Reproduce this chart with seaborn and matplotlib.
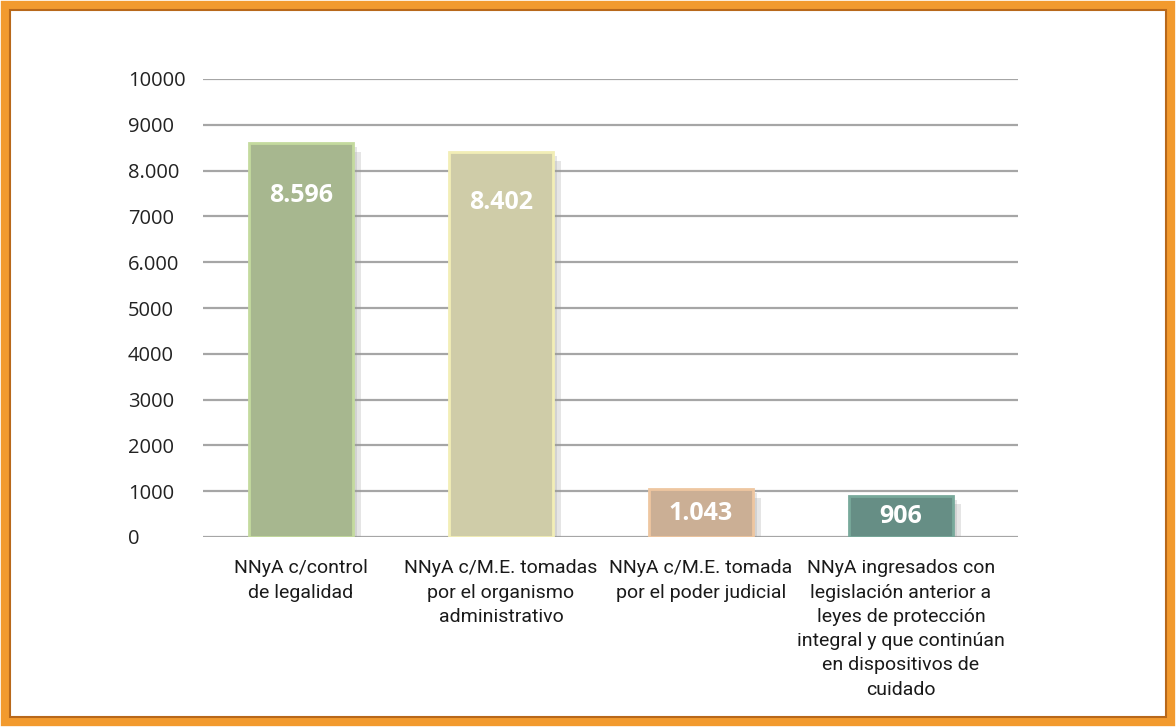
import matplotlib
matplotlib.use("Agg")
import matplotlib.pyplot as plt
import matplotlib.patheffects as pe
from matplotlib.patches import Rectangle
import seaborn as sns
import pandas as pd

categories = [
    "NNyA c/control\nde legalidad",
    "NNyA c/M.E. tomadas\npor el organismo\nadministrativo",
    "NNyA c/M.E. tomada\npor el poder judicial",
    "NNyA ingresados con\nlegislación anterior a\nleyes de protección\nintegral y que continúan\nen dispositivos de\ncuidado",
]
values = [8596, 8402, 1043, 906]
value_labels = ["8.596", "8.402", "1.043", "906"]
ytick_values = [0, 1000, 2000, 3000, 4000, 5000, 6000, 7000, 8000, 9000, 10000]
ytick_labels = ["0", "1000", "2000", "3000", "4000", "5000", "6.000", "7000", "8.000", "9000", "10000"]

bar_colors = ["#A8BD89", "#D5D1A1", "#D4AF8C", "#5F9588"]
edge_colors = ["#C4DA9E", "#F2EEB6", "#EEC6A0", "#78A99B"]

sns.set_theme(style="white")
plt.rcParams["font.family"] = ["Open Sans", "DejaVu Sans"]

fig = plt.figure(figsize=(11.76, 7.27), dpi=100)
fig.patch.set_facecolor("white")
ax = fig.add_axes([203 / 1176, 1 - 537 / 727, (1018 - 203) / 1176, (537 - 79) / 727])

df = pd.DataFrame({"cat": categories, "val": values})
sns.barplot(data=df, x="cat", y="val", hue="cat", palette=bar_colors,
            legend=False, width=0.52, ax=ax, zorder=3)

for p, ec in zip(ax.patches, edge_colors):
    p.set_edgecolor(ec)
    p.set_linewidth(2)
    p.set_path_effects([pe.SimplePatchShadow(offset=(6, -6), shadow_rgbFace="#9A9A9A", alpha=0.25),
                        pe.SimplePatchShadow(offset=(3, -3), shadow_rgbFace="#9A9A9A", alpha=0.25),
                        pe.Normal()])

ax.set_ylim(0, 10000)
ax.set_xlim(-0.49, 3.585)
ax.set_yticks(ytick_values)
ax.set_yticklabels(ytick_labels, fontsize=14.5, color="#222222")
for t in ax.get_yticklabels():
    t.set_horizontalalignment("left")
ax.tick_params(axis="y", length=0, pad=54)
ax.tick_params(axis="x", length=0, pad=16)
ax.set_xticks(range(len(categories)))
ax.set_xticklabels(categories, fontsize=14, color="#1A1A1A", linespacing=1.45,
                   family=["Roboto", "DejaVu Sans"])
ax.set_xlabel("")
ax.set_ylabel("")
ax.yaxis.grid(True, color="#A6A6A6", linewidth=1.6, zorder=0)
ax.xaxis.grid(False)
for s in ax.spines.values():
    s.set_visible(False)
ax.set_axisbelow(True)

for i, (v, lab) in enumerate(zip(values, value_labels)):
    y = min(max(v / 2, v - 1100), 7450)
    ax.text(i, y, lab, ha="center", va="center", color="white",
            fontsize=18, fontweight="bold", zorder=5)

# orange frame
fig.patches.append(Rectangle((5 / 1176, 5 / 727), 1 - 10 / 1176, 1 - 10 / 727,
                             transform=fig.transFigure, fill=False,
                             edgecolor="#F29A2E", linewidth=6, zorder=10))
fig.patches.append(Rectangle((10 / 1176, 10 / 727), 1 - 20 / 1176, 1 - 20 / 727,
                             transform=fig.transFigure, fill=False,
                             edgecolor="#B8681A", linewidth=1.5, zorder=10))

fig.savefig("out.png", dpi=100)
